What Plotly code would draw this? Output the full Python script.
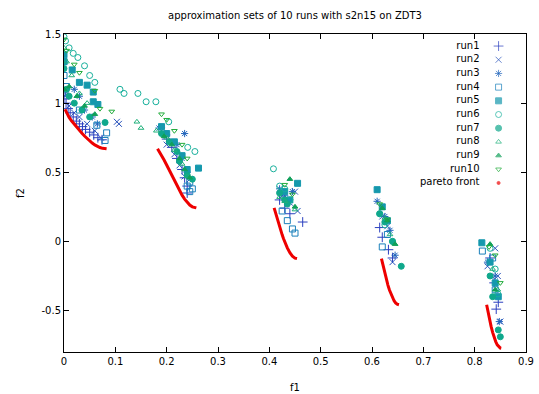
import plotly.graph_objects as go

# ---- approximation sets (f1, f2) for each run ----
run1_f1 = [0.000, 0.004, 0.008, 0.012, 0.018, 0.024, 0.030, 0.036, 0.042, 0.050, 0.058, 0.066, 0.074,
           0.200, 0.210, 0.220, 0.230, 0.235, 0.240, 0.240,
           0.420, 0.430, 0.440, 0.465,
           0.615, 0.620, 0.632, 0.640,
           0.830, 0.838, 0.842, 0.846]
run1_f2 = [1.03, 1.00, 0.96, 0.93, 0.90, 0.87, 0.85, 0.83, 0.81, 0.79, 0.77, 0.75, 0.735,
           0.74, 0.68, 0.60, 0.52, 0.46, 0.40, 0.35,
           0.30, 0.24, 0.20, 0.14,
           0.10, 0.03, -0.06, -0.12,
           -0.12, -0.30, -0.49, -0.44]

run2_f1 = [0.002, 0.010, 0.020, 0.030, 0.045, 0.060, 0.072, 0.103, 0.107,
           0.190, 0.200, 0.215, 0.225, 0.235, 0.245,
           0.425, 0.440, 0.450, 0.455,
           0.620, 0.630, 0.640,
           0.825, 0.840, 0.845, 0.850]
run2_f2 = [1.05, 0.98, 0.93, 0.90, 0.85, 0.80, 0.75, 0.865, 0.85,
           0.80, 0.70, 0.63, 0.55, 0.47, 0.45,
           0.33, 0.28, 0.36, 0.22,
           0.18, 0.11, -0.15,
           -0.18, -0.05, -0.25, -0.58]

run3_f1 = [0.003, 0.020, 0.030, 0.040, 0.055, 0.065,
           0.185, 0.200, 0.220, 0.235, 0.230, 0.240,
           0.420, 0.430, 0.445,
           0.610, 0.625, 0.635, 0.645,
           0.825, 0.840, 0.848]
run3_f2 = [1.08, 1.10, 1.05, 0.95, 0.90, 0.85,
           0.82, 0.77, 0.70, 0.78, 0.60, 0.50,
           0.38, 0.33, 0.36,
           0.29, 0.18, 0.08, -0.10,
           -0.15, -0.25, -0.58]

run4_f1 = [0.000, 0.000, 0.005, 0.030, 0.064, 0.083, 0.080,
           0.240, 0.245, 0.250, 0.245,
           0.425, 0.435, 0.445, 0.450,
           0.620, 0.630,
           0.815, 0.835, 0.840]
run4_f2 = [1.20, 1.30, 1.12, 0.95, 0.84, 0.785, 0.73,
           0.40, 0.43, 0.38, 0.36,
           0.22, 0.15, 0.09, 0.06,
           -0.04, 0.05,
           -0.07, -0.12, -0.35]

run5_f1 = [0.000, 0.000, 0.016, 0.030, 0.045, 0.057, 0.057, 0.066,
           0.190, 0.200, 0.215, 0.230, 0.240, 0.262,
           0.430, 0.440, 0.455,
           0.610, 0.620, 0.630,
           0.814, 0.830, 0.840, 0.846]
run5_f2 = [1.30, 1.35, 1.24, 1.15, 1.13, 1.08, 1.01, 0.99,
           0.83, 0.78, 0.72, 0.62, 0.52, 0.53,
           0.36, 0.30, 0.42,
           0.374, 0.25, 0.15,
           -0.01, -0.15, -0.30, -0.40]

run6_f1 = [0.000, 0.003, 0.010, 0.018, 0.027, 0.040, 0.050, 0.060,
           0.109, 0.117, 0.144, 0.160, 0.179, 0.204, 0.241, 0.255,
           0.408, 0.420, 0.430, 0.440,
           0.615, 0.625, 0.640,
           0.830, 0.840, 0.845]
run6_f2 = [1.48, 1.45, 1.40, 1.36, 1.33, 1.27, 1.20, 1.15,
           1.10, 1.07, 1.07, 1.01, 1.01, 0.865, 0.68, 0.65,
           0.525, 0.40, 0.38, 0.30,
           0.20, 0.12, 0.00,
           -0.05, -0.20, -0.38]

run7_f1 = [0.000, 0.005, 0.010, 0.020, 0.035, 0.050, 0.080,
           0.190, 0.205, 0.220, 0.225, 0.240, 0.250,
           0.420, 0.430, 0.435,
           0.615, 0.625, 0.640, 0.657,
           0.830, 0.835, 0.846, 0.850]
run7_f2 = [1.25, 1.10, 1.05, 1.00, 0.95, 0.90, 0.86,
           0.78, 0.72, 0.65, 0.58, 0.48, 0.45,
           0.35, 0.30, 0.27,
           0.20, 0.14, 0.00, -0.18,
           -0.25, -0.40, -0.64, -0.69]

run8_f1 = [0.000, 0.005, 0.015, 0.030, 0.045, 0.142, 0.150,
           0.180, 0.200, 0.215, 0.230, 0.240,
           0.420, 0.430, 0.450,
           0.625, 0.635,
           0.835, 0.845]
run8_f2 = [1.40, 1.30, 1.20, 1.07, 1.00, 0.865, 0.82,
           0.80, 0.75, 0.66, 0.56, 0.47,
           0.32, 0.29, 0.23,
           0.17, 0.05,
           -0.20, -0.35]

run9_f1 = [0.000, 0.010, 0.025, 0.040, 0.060,
           0.195, 0.210, 0.225, 0.235, 0.245,
           0.440, 0.450,
           0.620, 0.630, 0.645,
           0.830, 0.840]
run9_f2 = [1.10, 1.12, 1.05, 0.98, 0.92,
           0.76, 0.70, 0.60, 0.52, 0.46,
           0.45, 0.25,
           0.24, 0.15, -0.02,
           -0.02, -0.35]

run10_f1 = [0.000, 0.005, 0.020, 0.030, 0.060, 0.093, 0.070,
            0.190, 0.200, 0.215, 0.230, 0.240,
            0.430, 0.445,
            0.615, 0.630,
            0.828, 0.840, 0.850]
run10_f2 = [1.46, 1.38, 1.28, 1.22, 1.09, 0.94, 0.96,
            0.92, 0.88, 0.80, 0.70, 0.60,
            0.41, 0.34,
            0.27, 0.16,
            -0.04, -0.10, -0.30]

# ---- ZDT3 pareto front, five disconnected pieces ----
front_f1 = [
    [0.002, 0.005, 0.010, 0.015, 0.020, 0.025, 0.030, 0.035, 0.040, 0.045,
     0.050, 0.055, 0.060, 0.065, 0.070, 0.075, 0.080, 0.083],
    [0.1822, 0.1855, 0.190, 0.195, 0.200, 0.205, 0.210, 0.215, 0.220, 0.225,
     0.230, 0.235, 0.240, 0.245, 0.250, 0.2578],
    [0.4093, 0.412, 0.415, 0.4175, 0.420, 0.4225, 0.425, 0.4275, 0.430, 0.4325,
     0.435, 0.440, 0.445, 0.450, 0.4539],
    [0.6184, 0.622, 0.625, 0.628, 0.631, 0.634, 0.637, 0.640, 0.643, 0.646,
     0.649, 0.6525],
    [0.8233, 0.826, 0.829, 0.832, 0.835, 0.838, 0.841, 0.844, 0.847, 0.850, 0.8518],
]
front_f2 = [
    [0.9552, 0.9285, 0.8969, 0.8707, 0.8468, 0.8242, 0.8025, 0.7817, 0.7620, 0.7434,
     0.7264, 0.7112, 0.6980, 0.6871, 0.6788, 0.6731, 0.6701, 0.6696],
    [0.6698, 0.6509, 0.6228, 0.5889, 0.5528, 0.5152, 0.4769, 0.4387, 0.4016, 0.3666,
     0.3344, 0.3058, 0.2818, 0.2630, 0.2500, 0.2422],
    [0.2423, 0.2065, 0.1674, 0.1357, 0.1050, 0.0756, 0.0476, 0.0211, -0.0036, -0.0264,
     -0.0471, -0.0818, -0.1066, -0.1208, -0.1242],
    [-0.1242, -0.1851, -0.2325, -0.2763, -0.3163, -0.3518, -0.3828, -0.4087, -0.4294, -0.4446,
     -0.4543, -0.4583],
    [-0.4578, -0.5110, -0.5656, -0.6149, -0.6579, -0.6946, -0.7246, -0.7478, -0.7636, -0.7720, -0.7734],
]

series_names = ["run1", "run2", "run3", "run4", "run5", "run6", "run7", "run8", "run9", "run10"]
x_ticks = [0, 0.1, 0.2, 0.3, 0.4, 0.5, 0.6, 0.7, 0.8, 0.9]
y_ticks = [-0.5, 0, 0.5, 1, 1.5]

runs_f1 = [run1_f1, run2_f1, run3_f1, run4_f1, run5_f1, run6_f1, run7_f1, run8_f1, run9_f1, run10_f1]
runs_f2 = [run1_f2, run2_f2, run3_f2, run4_f2, run5_f2, run6_f2, run7_f2, run8_f2, run9_f2, run10_f2]

symbols = ["cross-thin-open", "x-thin-open", "asterisk-open", "square-open", "square",
           "circle-open", "circle", "triangle-up-open", "triangle-up", "triangle-down-open"]
sizes = [7, 6, 6, 6, 6, 6, 6, 5, 5, 5]
colors = ["#2b3fbf", "#2852bb", "#2064bb", "#1a80bb", "#1598ad",
          "#18b09c", "#0fa88c", "#1fb07a", "#10a05a", "#22ac3c"]
front_color = "#ee0000"

FONT = "DejaVu Sans"

fig = go.Figure()

for name, xs, ys, sym, sz, col in zip(series_names, runs_f1, runs_f2, symbols, sizes, colors):
    fig.add_trace(go.Scatter(
        x=xs, y=ys, mode="markers", name=name, showlegend=False,
        marker=dict(symbol=sym, size=sz, color=col, line=dict(color=col, width=1)),
    ))

# pareto front pieces joined with gaps between them
pf_x, pf_y = [], []
for xs, ys in zip(front_f1, front_f2):
    pf_x += xs + [None]
    pf_y += ys + [None]
fig.add_trace(go.Scatter(
    x=pf_x, y=pf_y, mode="lines", name="pareto front", showlegend=False,
    line=dict(color=front_color, width=3), connectgaps=False,
))

# key: labels right-aligned, sample symbol to the right
key_labels = series_names + ["pareto front"]
key_symbols = symbols + ["circle"]
key_sizes = sizes + [3]
key_colors = colors + [front_color]
fig.add_trace(go.Scatter(
    x=[0] * len(key_labels), y=key_labels, mode="markers",
    xaxis="x2", yaxis="y2", showlegend=False, cliponaxis=False, hoverinfo="skip",
    marker=dict(symbol=key_symbols, size=key_sizes, color=key_colors,
                line=dict(color=key_colors, width=1)),
))
fig.add_trace(go.Scatter(
    x=[-0.66] * len(key_labels), y=key_labels, mode="text", text=key_labels,
    textposition="middle left", xaxis="x2", yaxis="y2", showlegend=False,
    cliponaxis=False, hoverinfo="skip",
    textfont=dict(family=FONT, size=10, color="black"),
))

axis_common = dict(
    showline=True, linecolor="black", linewidth=1, mirror="ticks",
    ticks="inside", ticklen=5, tickcolor="black", showgrid=False, zeroline=False,
    automargin=False,
    tickfont=dict(family=FONT, size=10, color="black"),
)

fig.update_layout(
    width=539, height=394,
    margin=dict(l=64, r=13, t=34, b=42),
    paper_bgcolor="white", plot_bgcolor="white",
    font=dict(family=FONT, size=10, color="black"),
    title=dict(text="approximation sets of 10 runs with s2n15 on ZDT3",
               x=295 / 539, xanchor="center", y=1 - 15 / 394, yanchor="middle",
               font=dict(family=FONT, size=10, color="black")),
    xaxis=dict(range=[0, 0.9], tickvals=x_ticks, ticktext=[f"{v:g}" for v in x_ticks],
               title=dict(text="f1", standoff=17, font=dict(family=FONT, size=10)),
               **axis_common),
    yaxis=dict(range=[-0.8, 1.5], tickvals=y_ticks, ticktext=[f"{v:g}" for v in y_ticks],
               title=dict(text="f2", standoff=14, font=dict(family=FONT, size=10)),
               **axis_common),
    xaxis2=dict(domain=[0.85, 0.975], range=[-1.45, 0.55], anchor="y2", visible=False,
                fixedrange=True),
    yaxis2=dict(domain=[0.5101, 0.9836], range=[10.5, -0.5], anchor="x2", visible=False,
                type="category", categoryorder="array", categoryarray=key_labels,
                fixedrange=True),
    showlegend=False,
)

fig.write_html("out.html")
